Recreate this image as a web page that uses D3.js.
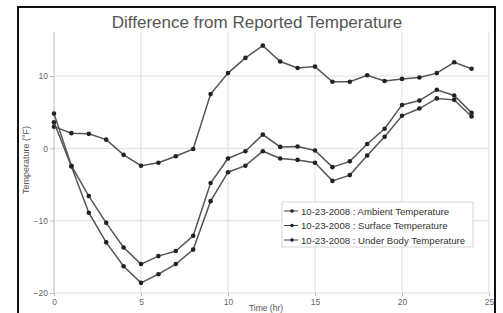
<!DOCTYPE html>
<html><head><meta charset="utf-8">
<script src="https://cdn.jsdelivr.net/npm/d3@7"></script>
<style>body{margin:0;background:#fff}svg{display:block}text{font-family:"Liberation Sans",Arial,sans-serif}</style>
</head><body><svg id="c" width="503" height="313"></svg>
<script>
const hours = d3.range(0, 25);
const ambient = [3.0,2.1,2.0,1.2,-0.9,-2.4,-2.0,-1.1,-0.1,7.5,10.4,12.5,14.2,12.0,11.1,11.3,9.2,9.2,10.1,9.3,9.6,9.8,10.4,11.9,11.0];
const surface = [4.8,-2.4,-6.6,-10.3,-13.7,-16.0,-14.9,-14.2,-12.1,-4.8,-1.4,-0.4,1.9,0.2,0.25,-0.3,-2.6,-1.8,0.6,2.7,6.0,6.6,8.1,7.3,4.9];
const underBody = [3.6,-2.5,-8.9,-13.0,-16.3,-18.6,-17.4,-16.0,-14.0,-7.3,-3.3,-2.4,-0.4,-1.4,-1.6,-2.0,-4.5,-3.7,-1.0,1.6,4.5,5.5,6.9,6.7,4.4];
const seriesNames = ["10-23-2008 : Ambient Temperature","10-23-2008 : Surface Temperature","10-23-2008 : Under Body Temperature"];
const xTicks = [0,5,10,15,20,25];
const yTicks = [10,0,-10,-20];
const title = "Difference from Reported Temperature";
const xTitle = "Time (hr)";
const yTitle = "Temperature (°F)";

const svg = d3.select("#c");
const x = d3.scaleLinear().domain([0,25]).range([54,489]);
const y = d3.scaleLinear().domain([-20,10]).range([293,76]);
const plotTop = 32;

svg.append("rect").attr("x",18).attr("y",7).attr("width",477).attr("height",320)
  .attr("fill","#fff").attr("stroke","#111").attr("stroke-width",2);

svg.append("text").attr("x",257).attr("y",28).attr("text-anchor","middle")
  .attr("font-size",17).attr("fill","#555").text(title);

// grid
svg.append("g").selectAll("line").data(yTicks).join("line")
  .attr("x1",x(0)).attr("x2",x(25)).attr("y1",d=>y(d)).attr("y2",d=>y(d))
  .attr("stroke","#ddd").attr("stroke-width",1);
svg.append("g").selectAll("line").data(xTicks).join("line")
  .attr("x1",d=>x(d)).attr("x2",d=>x(d)).attr("y1",plotTop).attr("y2",y(-20))
  .attr("stroke",d=>d===0?"#bbb":"#ddd").attr("stroke-width",1);

// axes
const yAxis = d3.axisLeft(y).tickValues(yTicks).tickSize(4).tickPadding(2);
const gy = svg.append("g").attr("transform",`translate(${x(0)},0)`).call(yAxis);
gy.select(".domain").remove();
gy.selectAll("line").attr("stroke","#bbb");
gy.selectAll("text").attr("font-size",8.5).attr("fill","#666");
const xAxis = d3.axisBottom(x).tickValues(xTicks).tickSize(3).tickPadding(3);
const gx = svg.append("g").attr("transform",`translate(0,${y(-20)})`).call(xAxis);
gx.select(".domain").remove();
gx.selectAll("line").attr("stroke","#bbb");
gx.selectAll("text").attr("font-size",8.5).attr("fill","#666");

svg.append("text").attr("x",266).attr("y",311).attr("text-anchor","middle")
  .attr("font-size",8.5).attr("fill","#555").text(xTitle);
svg.append("text").attr("transform",`translate(29,160) rotate(-90)`).attr("text-anchor","middle")
  .attr("font-size",9).attr("fill","#555").text(yTitle);

const all = [ambient, surface, underBody];
const line = d3.line().x((d,i)=>x(hours[i])).y(d=>y(d));
const sg = svg.append("g").selectAll("g").data(all).join("g");
sg.append("path").attr("d",d=>line(d)).attr("fill","none").attr("stroke","#555").attr("stroke-width",1.5);
sg.selectAll("circle").data(d=>d).join("circle")
  .attr("cx",(d,i)=>x(hours[i])).attr("cy",d=>y(d)).attr("r",2.3).attr("fill","#222");

// legend
const lg = svg.append("g");
lg.append("rect").attr("x",282).attr("y",202).attr("width",191).attr("height",45)
  .attr("fill","#fff").attr("stroke","#ccc").attr("stroke-width",0.8);
const rows = lg.selectAll("g").data(seriesNames).join("g")
  .attr("transform",(d,i)=>`translate(0,${211+i*14.5})`);
rows.append("line").attr("x1",284).attr("x2",298).attr("stroke","#444").attr("stroke-width",1);
rows.append("circle").attr("cx",292).attr("r",1.8).attr("fill","#222");
rows.append("text").attr("x",301).attr("y",3.5).attr("font-size",9.6).attr("fill","#333").text(d=>d);
</script></body></html>
